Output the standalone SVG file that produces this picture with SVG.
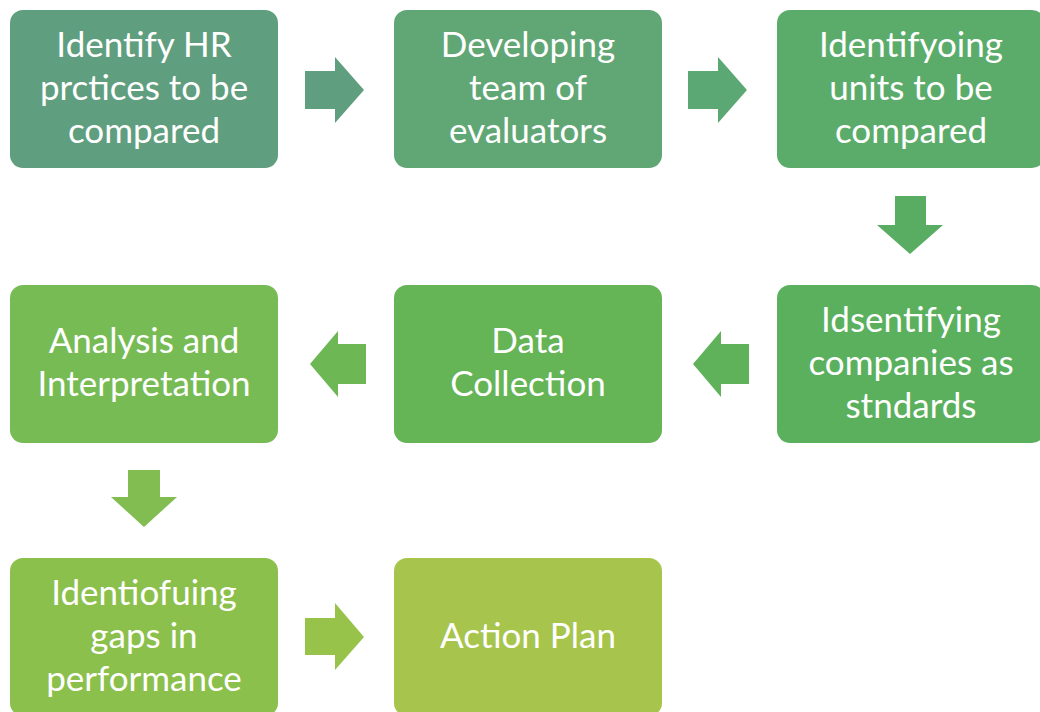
<svg xmlns="http://www.w3.org/2000/svg" width="1040" height="712" viewBox="0 0 1040 712">
<style>
.box text{font-family:Lato,"Open Sans","Liberation Sans",sans-serif;font-size:35px;fill:#ffffff;text-anchor:middle}
</style>
<rect width="1040" height="712" fill="#ffffff"/>
<g id="connectors">
<path d="M305 71H335V57L364 90L335 123V109H305Z" fill="#5f9f7f"/>
<path d="M688 71H718V57L747 90L718 123V109H688Z" fill="#5ca874"/>
<path d="M895 196H926V225H943L910 254L877 225H895Z" fill="#59ad62"/>
<path d="M749 344H721V331L693 364L721 397V384H749Z" fill="#5fb25a"/>
<path d="M366 344H338V331L310 364L338 397V384H366Z" fill="#6db855"/>
<path d="M128 470H160V497H177L144 527L111 497H128Z" fill="#81bd50"/>
<path d="M305 618H335V603L364 637L335 670V655H305Z" fill="#98c34b"/>
</g>
<g id="n1" class="box"><rect x="10" y="10" width="268" height="158" rx="13" fill="#5f9e7e"/><text x="144" y="57">Identify HR</text><text x="144" y="100">prctices to be</text><text x="144" y="143">compared</text></g>
<g id="n2" class="box"><rect x="394" y="10" width="268" height="158" rx="13" fill="#61a775"/><text x="528" y="57">Developing</text><text x="528" y="100">team of</text><text x="528" y="143">evaluators</text></g>
<g id="n3" class="box"><rect x="777" y="10" width="268" height="158" rx="13" fill="#5bac6b"/><text x="911" y="57">Identifyoing</text><text x="911" y="100">units to be</text><text x="911" y="143">compared</text></g>
<g id="n4" class="box"><rect x="777" y="285" width="268" height="158" rx="13" fill="#5bb05e"/><text x="911" y="332">Idsentifying</text><text x="911" y="375">companies as</text><text x="911" y="418">stndards</text></g>
<g id="n5" class="box"><rect x="394" y="285" width="268" height="158" rx="13" fill="#65b456"/><text x="528" y="353">Data</text><text x="528" y="396">Collection</text></g>
<g id="n6" class="box"><rect x="10" y="285" width="268" height="158" rx="13" fill="#77bb55"/><text x="144" y="353">Analysis and</text><text x="144" y="396">Interpretation</text></g>
<g id="n7" class="box"><rect x="10" y="558" width="268" height="158" rx="13" fill="#8cc04c"/><text x="144" y="605">Identiofuing</text><text x="144" y="648">gaps in</text><text x="144" y="691">performance</text></g>
<g id="n8" class="box"><rect x="394" y="558" width="268" height="158" rx="13" fill="#a7c54c"/><text x="528" y="648">Action Plan</text></g>
</svg>
